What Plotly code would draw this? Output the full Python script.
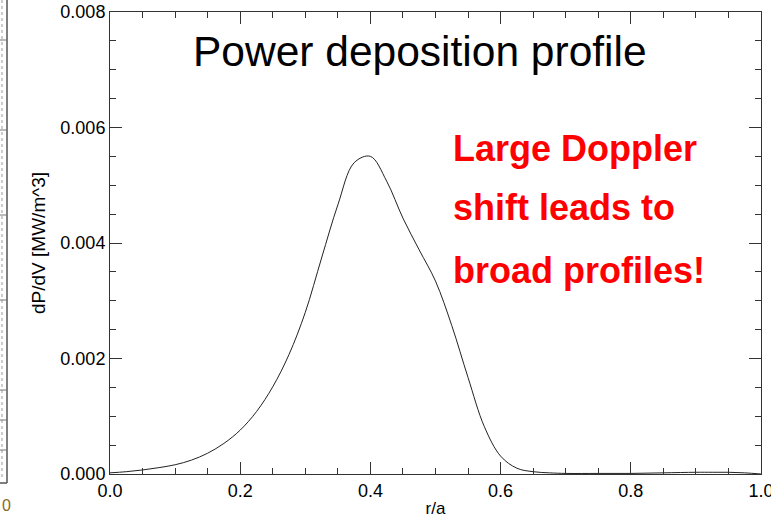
import plotly.graph_objects as go

# Data
r_over_a = [0.000, 0.025, 0.050, 0.075, 0.100, 0.125, 0.150, 0.175, 0.200,
            0.225, 0.250, 0.275, 0.300, 0.325, 0.350, 0.375, 0.400, 0.425,
            0.450, 0.475, 0.500, 0.525, 0.550, 0.575, 0.600, 0.625, 0.650,
            0.675, 0.700, 0.750, 0.800, 0.850, 0.900, 0.925, 0.950, 0.975,
            1.000]
dPdV = [0.00002, 0.00004, 0.00007, 0.00011, 0.00016, 0.00024, 0.00036,
        0.00053, 0.00076, 0.00108, 0.00151, 0.00207, 0.00280, 0.00374,
        0.00466, 0.00539, 0.00550, 0.00507, 0.00443, 0.00388, 0.00334,
        0.00257, 0.00167, 0.00082, 0.00031, 0.00010, 0.00004, 0.00002,
        0.00001, 0.00001, 0.00001, 0.00002, 0.00003, 0.00003, 0.00003,
        0.00002, 0.0]

x_ticks = [0.0, 0.2, 0.4, 0.6, 0.8, 1.0]
x_tick_labels = ["0.0", "0.2", "0.4", "0.6", "0.8", "1.0"]
y_ticks = [0.000, 0.002, 0.004, 0.006, 0.008]
y_tick_labels = ["0.000", "0.002", "0.004", "0.006", "0.008"]

title_text = "Power deposition profile"
note_lines = ["Large Doppler", "shift leads to", "broad profiles!"]

FONT = "Arial, 'Liberation Sans', sans-serif"
AX = "#333333"

fig = go.Figure()
fig.add_trace(go.Scatter(
    x=r_over_a, y=dPdV, mode="lines",
    line=dict(color="#222222", width=1, shape="spline", smoothing=1.0),
    hoverinfo="skip", showlegend=False,
))

axis_common = dict(
    showline=True, linecolor=AX, linewidth=1, mirror="ticks",
    ticks="inside", ticklen=12, tickwidth=1, tickcolor=AX,
    showgrid=False, zeroline=False, automargin=False,
    ticklabeloverflow="allow",
    tickfont=dict(family=FONT, size=18, color="black"),
)

fig.update_xaxes(
    range=[0, 1], tickvals=x_ticks, ticktext=x_tick_labels,
    minor=dict(ticks="inside", ticklen=6, dtick=0.05, tickcolor=AX, showgrid=False),
    title=dict(text="r/a", font=dict(family=FONT, size=17, color="black"), standoff=2),
    **axis_common,
)
fig.update_yaxes(
    range=[0, 0.008], tickvals=y_ticks, ticktext=y_tick_labels,
    minor=dict(ticks="inside", ticklen=6, dtick=0.0005, tickcolor=AX, showgrid=False),
    title=dict(text="dP/dV [MW/m^3]", font=dict(family=FONT, size=19, color="black"), standoff=9),
    **axis_common,
)

fig.add_annotation(
    text=title_text, xref="paper", yref="paper",
    x=(420 - 110) / 651, y=(474 - 52) / 462, xanchor="center", yanchor="middle",
    showarrow=False, font=dict(family=FONT, size=42.5, color="black"),
)

note_baselines = [160, 220, 282]
for line, base in zip(note_lines, note_baselines):
    fig.add_annotation(
        text="<b>" + line + "</b>", xref="paper", yref="paper",
        x=(451 - 110) / 651, y=(474 - (base - 12)) / 462,
        xanchor="left", yanchor="middle", showarrow=False,
        font=dict(family=FONT, size=36, color="#ff0000"),
    )

# fragment of neighbouring panel at the left edge
def px(xp):
    return (xp - 110) / 651

def py(yp):
    return (474 - yp) / 462

frag = "#555555"
fig.add_shape(type="line", xref="paper", yref="paper",
              x0=px(7), x1=px(7), y0=py(0), y1=py(483),
              line=dict(color=frag, width=1.5))
fig.add_shape(type="line", xref="paper", yref="paper",
              x0=px(0), x1=px(7), y0=py(483), y1=py(483),
              line=dict(color=frag, width=1.5))
fig.add_shape(type="line", xref="paper", yref="paper",
              x0=px(2), x1=px(2), y0=py(0), y1=py(480),
              line=dict(color="#999999", width=1, dash="dot"))
for yy in [40, 130, 215, 300, 390, 420, 450]:
    fig.add_shape(type="line", xref="paper", yref="paper",
                  x0=px(0), x1=px(7), y0=py(yy), y1=py(yy),
                  line=dict(color="#777777", width=1))
fig.add_annotation(text="0", xref="paper", yref="paper",
                   x=px(0), y=py(505), xanchor="left", yanchor="middle",
                   showarrow=False, font=dict(family=FONT, size=16, color="#8a6a20"))

fig.update_layout(
    width=771, height=519,
    margin=dict(l=110, r=10, t=12, b=45),
    plot_bgcolor="white", paper_bgcolor="white",
    font=dict(family=FONT, size=17, color="black"),
    showlegend=False,
)

fig.write_html(
    "out.html",
    config={"displayModeBar": False},
    post_script="document.body.style.margin='0px';document.body.style.overflow='hidden';",
)
